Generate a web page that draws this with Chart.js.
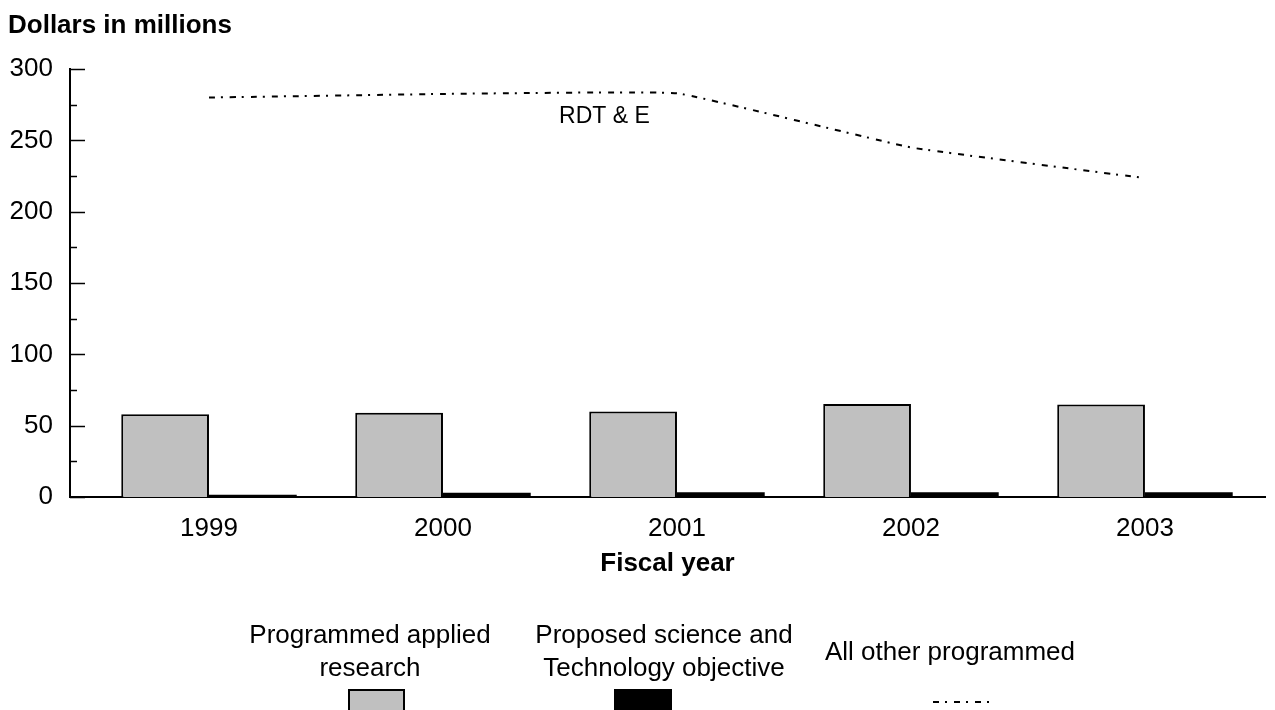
<!DOCTYPE html>
<html>
<head>
<meta charset="utf-8">
<script src="https://cdn.jsdelivr.net/npm/chart.js@4.4.1/dist/chart.umd.min.js"></script>
<style>
  html, body { margin: 0; padding: 0; background: #fff; }
  canvas { display: block; }
</style>
</head>
<body>
<canvas id="chart" width="1275" height="710"></canvas>
<script>
// Fiscal years on the horizontal axis
const fiscalYears = ['1999', '2000', '2001', '2002', '2003'];
// Dollars in millions
const appliedResearch = [58, 59, 60, 65.2, 64.8];
const scienceTechObjective = [1.5, 3, 3.3, 3.3, 3.3];
const allOtherProgrammed = [280, 282.5, 283, 245, 223.5];
// Value axis
const yMin = 0;
const yMax = 300;
const yStep = 50;
// Legend captions (one entry per line)
const seriesLabels = [
  ['Programmed applied', 'research'],
  ['Proposed science and', 'Technology objective'],
  ['All other programmed']
];
const lineCaption = 'RDT & E';
const yAxisTitle = 'Dollars in millions';
const xAxisTitle = 'Fiscal year';

const FONT = '"Liberation Sans", Arial, Helvetica, sans-serif';
const LINE_DASH = [6, 6, 2, 7];

const toPoints = arr => arr.map((v, i) => ({ x: i, y: v }));

const decor = {
  id: 'decor',
  afterDraw(chart) {
    const { ctx, chartArea, scales } = chart;
    const xs = scales.x, ys = scales.y;
    ctx.save();

    // y-axis heading
    ctx.fillStyle = '#000';
    ctx.font = 'bold 26px ' + FONT;
    ctx.textAlign = 'left';
    ctx.textBaseline = 'alphabetic';
    ctx.fillText(yAxisTitle, 8, 33);

    // inward tick marks: long at labelled values, short half-way between
    ctx.strokeStyle = '#000';
    ctx.lineWidth = 1.5;
    for (let v = yMin; v <= yMax; v += yStep / 2) {
      const py = Math.round(ys.getPixelForValue(v)) + 0.5;
      const len = (v % yStep === 0) ? 15 : 7;
      ctx.beginPath();
      ctx.moveTo(chartArea.left, py);
      ctx.lineTo(chartArea.left + len, py);
      ctx.stroke();
    }

    // caption on the line series
    ctx.font = '23px ' + FONT;
    ctx.textAlign = 'center';
    ctx.fillText(lineCaption, xs.getPixelForValue(1.69), ys.getPixelForValue(262));

    // legend: captions above swatches
    const ds = chart.data.datasets;
    const cols = [
      { cx: 370, sx: 348, sw: 57, lines: [643, 676] },
      { cx: 664, sx: 614, sw: 58, lines: [643, 676] },
      { cx: 950, sx: 933, sw: 56, lines: [660] }
    ];
    ctx.font = '26px ' + FONT;
    ctx.textAlign = 'center';
    cols.forEach((c, i) => {
      seriesLabels[i].forEach((t, k) => ctx.fillText(t, c.cx, c.lines[k]));
      const d = ds[i];
      if (d.type === 'line') {
        ctx.strokeStyle = d.borderColor;
        ctx.lineWidth = d.borderWidth;
        ctx.setLineDash(d.borderDash);
        ctx.beginPath();
        ctx.moveTo(c.sx, 702);
        ctx.lineTo(c.sx + c.sw, 702);
        ctx.stroke();
        ctx.setLineDash([]);
      } else {
        ctx.fillStyle = d.backgroundColor;
        ctx.fillRect(c.sx, 689, c.sw, 30);
        if (d.borderWidth) {
          ctx.strokeStyle = d.borderColor;
          ctx.lineWidth = d.borderWidth;
          ctx.strokeRect(c.sx + 1, 690, c.sw - 2, 30);
        }
        ctx.fillStyle = '#000';
      }
    });
    ctx.restore();
  }
};

new Chart(document.getElementById('chart'), {
  type: 'bar',
  data: {
    datasets: [
      {
        label: seriesLabels[0].join(' '),
        data: toPoints(appliedResearch),
        backgroundColor: '#c0c0c0',
        borderColor: '#000',
        borderWidth: 2,
        categoryPercentage: 0.75,
        barPercentage: 1,
        order: 2
      },
      {
        label: seriesLabels[1].join(' '),
        data: toPoints(scienceTechObjective),
        backgroundColor: '#000',
        borderColor: '#000',
        borderWidth: 0,
        categoryPercentage: 0.75,
        barPercentage: 1,
        order: 2
      },
      {
        type: 'line',
        label: seriesLabels[2].join(' '),
        data: toPoints(allOtherProgrammed),
        borderColor: '#000',
        borderWidth: 2,
        borderDash: LINE_DASH,
        pointRadius: 0,
        fill: false,
        tension: 0.08,
        order: 1
      }
    ]
  },
  options: {
    responsive: false,
    animation: false,
    devicePixelRatio: 1,
    layout: { padding: { left: 0, right: 10, top: 69, bottom: 129 } },
    plugins: { legend: { display: false }, tooltip: { enabled: false }, title: { display: false } },
    scales: {
      x: {
        type: 'linear',
        offset: false,
        min: -0.594,
        max: 4.513,
        grid: { display: false, drawTicks: false },
        border: { display: true, color: '#000', width: 2 },
        afterBuildTicks: scale => { scale.ticks = fiscalYears.map((_, i) => ({ value: i })); },
        afterFit: scale => { scale.height = 84; },
        ticks: {
          color: '#000',
          font: { family: FONT, size: 26 },
          padding: 16,
          maxRotation: 0,
          autoSkip: false,
          callback: v => fiscalYears[v]
        },
        title: {
          display: true,
          text: xAxisTitle,
          color: '#000',
          font: { family: FONT, size: 26, weight: 'bold' },
          padding: { top: 0, bottom: 2 }
        }
      },
      y: {
        min: yMin,
        max: yMax,
        grid: { display: false, drawTicks: false },
        border: { display: true, color: '#000', width: 2 },
        afterFit: scale => { scale.width = 70; },
        ticks: {
          stepSize: yStep,
          color: '#000',
          padding: 17,
          font: { family: FONT, size: 26 }
        }
      }
    }
  },
  plugins: [decor]
});
</script>
</body>
</html>
